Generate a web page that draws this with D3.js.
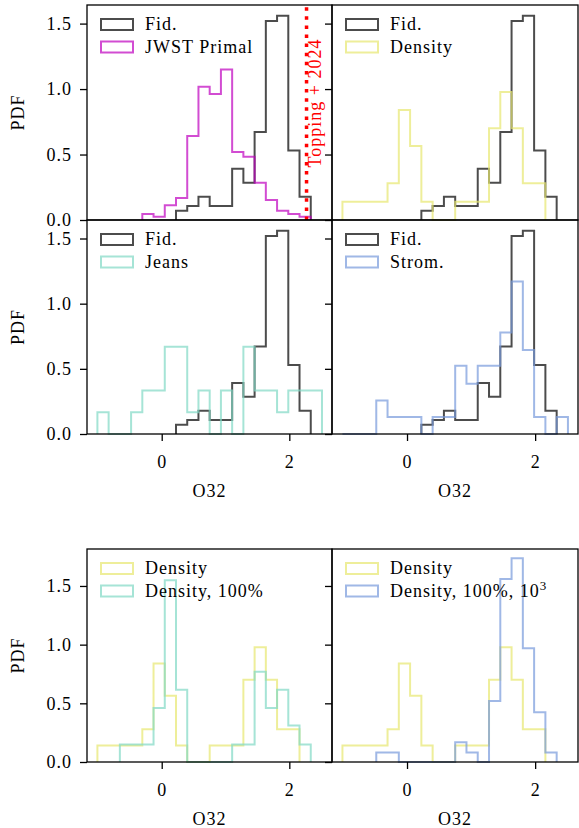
<!DOCTYPE html>
<html>
<head>
<meta charset="utf-8">
<script src="https://cdn.jsdelivr.net/npm/d3@7"></script>
<style>
  body { margin: 0; background: #fff; }
  svg text { font-family: "Liberation Serif", "DejaVu Serif", serif; letter-spacing: 1px; }
</style>
</head>
<body>
<div id="chart"></div>
<script>
// bin edges shared by every histogram (O32)
const binEdges = [-1.008, -0.832, -0.656, -0.480, -0.304, -0.128, 0.048, 0.224, 0.400, 0.576,
  0.752, 0.928, 1.104, 1.280, 1.456, 1.632, 1.808, 1.984, 2.160, 2.336, 2.512];

// PDF per bin, null = outside the histogram range
const fid = [null, null, null, null, null, null, null, 0.071, 0.107, 0.178,
  0.107, 0.107, 0.392, 0.285, 0.672, 1.52, 1.56, 0.53, 0.178, null];
const jwstPrimal = [null, null, null, null, 0.046, 0.025, 0.112, 0.168, 0.641, 1.017,
  0.962, 1.15, 0.519, 0.483, 0.285, 0.153, 0.071, 0.046, 0.025, null];
const density = [0.14, 0.14, 0.14, 0.14, 0.28, 0.84, 0.565, 0.14, 0, 0,
  0.14, 0.14, 0.14, 0.70, 0.977, 0.70, 0.28, 0.28, null, null];
const jeans = [0.166, 0, 0, 0.166, 0.334, 0.334, 0.67, 0.67, 0.166, 0.334,
  0, 0.334, 0, 0.67, 0.334, 0.334, 0.166, 0.334, 0.334, 0.334];
const strom = [0, 0, 0, 0.258, 0.13, 0.13, 0.13, 0, 0.13, 0.13,
  0.523, 0.385, 0.523, 0.523, 0.778, 1.17, 0.645, 0.13, 0, 0.13];
const density100 = [null, null, 0.15, 0.15, 0.15, 0.46, 1.548, 0.616, 0, 0,
  0, 0, 0.15, 0.15, 0.77, 0.46, 0.616, 0.31, 0.15, null];
const density100k = [null, null, null, 0.082, 0.082, 0, 0, 0, 0, 0,
  0.168, 0.082, 0, 0.52, 1.56, 1.736, 0.97, 0.423, 0.082, null];

const toppingX = 2.27;
const yTicks = [0, 0.5, 1.0, 1.5];
const xTicks = [0, 2];

const colors = {
  fid: "#000000",
  jwst: "#bf00bf",
  density: "#e7e76f",
  jeans: "#80d8c4",
  strom: "#779adb"
};

// panel layout
const panels = [
  { x: 87, y: 5, w: 245, h: 215, ymax: 1.642, left: true, xaxis: false,
    series: [{ d: fid, c: colors.fid, label: "Fid." }, { d: jwstPrimal, c: colors.jwst, label: "JWST Primal" }], topping: true },
  { x: 332, y: 5, w: 246, h: 215, ymax: 1.642, left: false, xaxis: false,
    series: [{ d: fid, c: colors.fid, label: "Fid." }, { d: density, c: colors.density, label: "Density" }] },
  { x: 87, y: 220, w: 245, h: 214, ymax: 1.642, left: true, xaxis: true,
    series: [{ d: fid, c: colors.fid, label: "Fid." }, { d: jeans, c: colors.jeans, label: "Jeans" }] },
  { x: 332, y: 220, w: 246, h: 214, ymax: 1.642, left: false, xaxis: true,
    series: [{ d: fid, c: colors.fid, label: "Fid." }, { d: strom, c: colors.strom, label: "Strom." }] },
  { x: 87, y: 549, w: 245, h: 213, ymax: 1.815, left: true, xaxis: true,
    series: [{ d: density, c: colors.density, label: "Density" }, { d: density100, c: colors.jeans, label: "Density, 100%" }] },
  { x: 332, y: 549, w: 246, h: 213, ymax: 1.815, left: false, xaxis: true,
    series: [{ d: density, c: colors.density, label: "Density" }, { d: density100k, c: colors.strom, label: "Density, 100%, 10", sup: "3" }] }
];

const svg = d3.select("#chart").append("svg")
  .attr("width", 579)
  .attr("height", 828);

const fontSize = 18;
const fontFam = "Liberation Serif";

function stepPoints(vals) {
  const idx = vals.map((v, i) => v === null ? -1 : i).filter(i => i >= 0);
  const first = idx[0], last = idx[idx.length - 1];
  const pts = [[binEdges[first], 0]];
  for (let i = first; i <= last; i++) {
    pts.push([binEdges[i], vals[i]]);
    pts.push([binEdges[i + 1], vals[i]]);
  }
  pts.push([binEdges[last + 1], 0]);
  return pts;
}

panels.forEach(function(p) {
  const g = svg.append("g").attr("transform", `translate(${p.x},${p.y})`);
  const x = d3.scaleLinear().domain([-1.171, 2.669]).range([0, p.w]);
  const y = d3.scaleLinear().domain([0, p.ymax]).range([p.h, 0]);

  const line = d3.line().x(d => x(d[0])).y(d => y(d[1]));

  p.series.forEach(function(s) {
    g.append("path")
      .attr("d", line(stepPoints(s.d)))
      .attr("fill", "none")
      .attr("stroke", s.c)
      .attr("stroke-opacity", 0.7)
      .attr("stroke-width", 2);
  });

  if (p.topping) {
    g.append("line")
      .attr("x1", x(toppingX)).attr("x2", x(toppingX))
      .attr("y1", y(0)).attr("y2", 0)
      .attr("stroke", "red")
      .attr("stroke-width", 3.5)
      .attr("stroke-dasharray", "3.5 5.6");
    g.append("text")
      .attr("transform", `translate(${x(toppingX) + 8.5},98) rotate(-90)`)
      .attr("text-anchor", "middle")
      .attr("dy", "0.35em")
      .attr("fill", "red")
      .style("font-size", "18px")
      .style("letter-spacing", "1px")
      .text("Topping + 2024");
  }

  // frame
  g.append("rect")
    .attr("width", p.w).attr("height", p.h)
    .attr("fill", "none")
    .attr("stroke", "#000")
    .attr("stroke-width", 1.3);

  // y axis
  const ya = g.append("g")
    .call(d3.axisLeft(y).tickValues(yTicks).tickSize(7).tickPadding(8)
      .tickFormat(p.left ? d3.format(".1f") : ""));
  ya.select(".domain").remove();
  ya.selectAll("line").attr("stroke-width", 1.3);
  ya.selectAll("text").style("font-size", fontSize + "px").style("font-family", fontFam);

  if (p.left) {
    g.append("text")
      .attr("transform", `translate(-69,${p.h / 2}) rotate(-90)`)
      .attr("text-anchor", "middle")
      .attr("dy", "0.35em")
      .style("font-size", fontSize + "px")
      .text("PDF");
  }

  if (p.xaxis) {
    const xa = g.append("g")
      .attr("transform", `translate(0,${p.h})`)
      .call(d3.axisBottom(x).tickValues(xTicks).tickSize(7).tickPadding(14)
        .tickFormat(d3.format("d")));
    xa.select(".domain").remove();
    xa.selectAll("line").attr("stroke-width", 1.3);
    xa.selectAll("text").style("font-size", fontSize + "px").style("font-family", fontFam);

    g.append("text")
      .attr("x", p.w / 2)
      .attr("y", p.h + 63)
      .attr("text-anchor", "middle")
      .style("font-size", fontSize + "px")
      .text("O32");
  }

  // legend
  const lg = g.append("g").attr("transform", "translate(14,14)");
  p.series.forEach(function(s, i) {
    lg.append("rect")
      .attr("x", 0).attr("y", i * 22.5)
      .attr("width", 32).attr("height", 11)
      .attr("fill", "none")
      .attr("stroke", s.c)
      .attr("stroke-opacity", 0.7)
      .attr("stroke-width", 2);
    const t = lg.append("text")
      .attr("x", 44).attr("y", i * 22.5 + 11)
      .style("font-size", fontSize + "px")
      .text(s.label);
    if (s.sup) {
      t.append("tspan")
        .attr("dy", -7)
        .style("font-size", "13px")
        .text(s.sup);
    }
  });
});
</script>
</body>
</html>
